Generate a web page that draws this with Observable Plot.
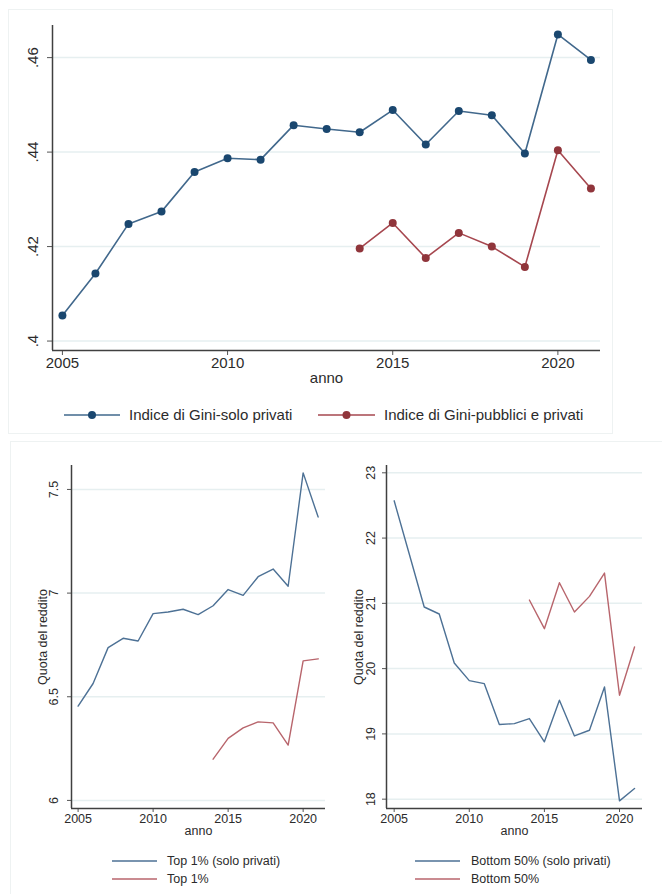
<!DOCTYPE html>
<html>
<head>
<meta charset="utf-8">
<script src="https://cdn.jsdelivr.net/npm/d3@7"></script>
<script src="https://cdn.jsdelivr.net/npm/@observablehq/plot@0.6"></script>
<style>
  html, body { margin: 0; padding: 0; background: #fff; }
  #page { position: relative; width: 662px; height: 894px; overflow: hidden; font-family: "Liberation Sans", Arial, sans-serif; color: #2b2b2b; }
  .abs { position: absolute; }
  .box { position: absolute; border: 1px solid #eef2f2; box-sizing: border-box; }
  .lg { position: absolute; white-space: nowrap; line-height: 20px; }
</style>
</head>
<body>
<div id="page">
  <div class="box" style="left:8px; top:9px; width:605px; height:425px;"></div>
  <div class="box" style="left:10px; top:441px; width:660px; height:460px;"></div>
  <div id="top" class="abs" style="left:0; top:0;"></div>
  <div id="bl" class="abs" style="left:0; top:435px;"></div>
  <div id="br" class="abs" style="left:330px; top:435px;"></div>
  <div id="legends"></div>
</div>
<script>
// ---- data ----
const yearsAll = [2005, 2006, 2007, 2008, 2009, 2010, 2011, 2012, 2013, 2014, 2015, 2016, 2017, 2018, 2019, 2020, 2021];
const yearsRecent = [2014, 2015, 2016, 2017, 2018, 2019, 2020, 2021];

const giniSoloPrivati = [0.4054, 0.4143, 0.4248, 0.4274, 0.4358, 0.4387, 0.4384, 0.4457, 0.4449, 0.4442, 0.4489, 0.4416, 0.4487, 0.4478, 0.4397, 0.4649, 0.4595];
const giniPubbliciPrivati = [0.4196, 0.4250, 0.4176, 0.4229, 0.4200, 0.4157, 0.4404, 0.4323];

const top1SoloPrivati = [6.455, 6.564, 6.737, 6.782, 6.769, 6.901, 6.909, 6.922, 6.896, 6.939, 7.017, 6.989, 7.079, 7.116, 7.033, 7.580, 7.367];
const top1 = [6.199, 6.299, 6.350, 6.379, 6.374, 6.267, 6.673, 6.683];

const bottom50SoloPrivati = [22.571, 21.76, 20.944, 20.837, 20.087, 19.816, 19.770, 19.143, 19.158, 19.235, 18.878, 19.515, 18.969, 19.056, 19.719, 17.974, 18.163];
const bottom50 = [21.051, 20.612, 21.316, 20.867, 21.107, 21.464, 19.592, 20.332];

const xTickValues = [2005, 2010, 2015, 2020];
const giniTicks = [0.40, 0.42, 0.44, 0.46];
const top1Ticks = [6, 6.5, 7, 7.5];
const bottom50Ticks = [18, 19, 20, 21, 22, 23];

const labelsTop = ["Indice di Gini-solo privati", "Indice di Gini-pubblici e privati"];
const labelsTop1 = ["Top 1% (solo privati)", "Top 1%"];
const labelsBottom50 = ["Bottom 50% (solo privati)", "Bottom 50%"];

// ---- helpers ----
const FONT = '"Liberation Sans", Arial, sans-serif';
const TXT = "#2b2b2b";
const GRID = "#e6eff0";
const AXIS = "#404040";

function rows(years, values, series) {
  return years.map((y, i) => ({year: y, value: values[i], series}));
}

function panel({width, height, marginLeft, marginTop, marginRight, marginBottom,
                xDomain, yDomain, yTicks, yFmt, fontSize, data1, data2,
                c1, c2, lineW, dots, dotC1, dotC2, yTickDx, yTitle, yTitleDx, annoDy, tickSize}) {
  const marks = [
    Plot.gridY(yTicks, {stroke: GRID, strokeOpacity: 1, strokeWidth: 1.5}),
    Plot.axisY(yTicks, {tickSize: tickSize, tickFormat: () => "", stroke: "#555", label: null}),
    Plot.text(yTicks, {y: d => d, frameAnchor: "left", text: yFmt, rotate: -90, dx: yTickDx,
                       fontSize: fontSize, fill: TXT, textAnchor: "middle", lineAnchor: "middle"}),
    Plot.axisX(xTickValues, {tickSize: tickSize, tickPadding: 2, tickFormat: d => String(d),
                             fontSize: fontSize, fill: TXT, stroke: "#555", label: null}),
    Plot.text(["anno"], {frameAnchor: "bottom", text: d => d, dy: annoDy, fontSize: fontSize, fill: TXT}),
    Plot.ruleX([xDomain[0]], {stroke: AXIS, strokeWidth: 1.5}),
    Plot.ruleY([yDomain[0]], {stroke: AXIS, strokeWidth: 1.5}),
    Plot.line(data1, {x: "year", y: "value", stroke: c1, strokeWidth: lineW}),
    Plot.line(data2, {x: "year", y: "value", stroke: c2, strokeWidth: lineW})
  ];
  if (yTitle) {
    marks.push(Plot.text([yTitle], {frameAnchor: "left", text: d => d, rotate: -90, dx: yTitleDx,
                                    fontSize: fontSize, fill: TXT, textAnchor: "middle", lineAnchor: "middle"}));
  }
  if (dots) {
    marks.push(Plot.dot(data1, {x: "year", y: "value", r: 4, fill: dotC1}));
    marks.push(Plot.dot(data2, {x: "year", y: "value", r: 4, fill: dotC2}));
  }
  return Plot.plot({
    width, height, marginLeft, marginTop, marginRight, marginBottom,
    style: {fontFamily: FONT, color: TXT, background: "transparent", overflow: "visible"},
    x: {domain: xDomain, type: "linear"},
    y: {domain: yDomain, type: "linear"},
    marks
  });
}

const stripZero = d => String(d).replace(/^0(?=\.)/, "");

// top panel
document.getElementById("top").appendChild(panel({
  width: 612, height: 400, marginLeft: 52, marginTop: 25, marginRight: 12, marginBottom: 50,
  xDomain: [2004.7, 2021.29], yDomain: [0.398, 0.4668],
  yTicks: giniTicks, yFmt: stripZero, fontSize: 15,
  data1: rows(yearsAll, giniSoloPrivati, labelsTop[0]),
  data2: rows(yearsRecent, giniPubbliciPrivati, labelsTop[1]),
  c1: "#41688c", c2: "#a6474f", lineW: 1.6, dots: true, dotC1: "#1a476f", dotC2: "#90353b",
  yTickDx: -19, yTitle: null, annoDy: 32, tickSize: 5
}));

// bottom-left
document.getElementById("bl").appendChild(panel({
  width: 330, height: 420, marginLeft: 71, marginTop: 30, marginRight: 5, marginBottom: 47,
  xDomain: [2004.56, 2021.49], yDomain: [5.961, 7.6155],
  yTicks: top1Ticks, yFmt: d => String(d), fontSize: 12.5,
  data1: rows(yearsAll, top1SoloPrivati, labelsTop1[0]),
  data2: rows(yearsRecent, top1, labelsTop1[1]),
  c1: "#4d7195", c2: "#b8656c", lineW: 1.4, dots: false,
  yTickDx: -18, yTitle: "Quota del reddito", yTitleDx: -29, annoDy: 26, tickSize: 4
}));

// bottom-right
document.getElementById("br").appendChild(panel({
  width: 332, height: 420, marginLeft: 56, marginTop: 30, marginRight: 20, marginBottom: 47,
  xDomain: [2004.49, 2021.53], yDomain: [17.857, 23.112],
  yTicks: bottom50Ticks, yFmt: d => String(d), fontSize: 12.5,
  data1: rows(yearsAll, bottom50SoloPrivati, labelsBottom50[0]),
  data2: rows(yearsRecent, bottom50, labelsBottom50[1]),
  c1: "#4d7195", c2: "#b8656c", lineW: 1.4, dots: false,
  yTickDx: -16, yTitle: "Quota del reddito", yTitleDx: -28, annoDy: 26, tickSize: 4
}));

// ---- legends ----
const L = document.getElementById("legends");
function legendItem(x1, x2, y, textX, label, lineColor, dotColor, fontSize) {
  const w = x2 - x1;
  const sw = `<svg class="abs" style="left:${x1}px; top:${y - 6}px;" width="${w}" height="12">
    <line x1="0" x2="${w}" y1="6" y2="6" stroke="${lineColor}" stroke-width="1.6"/>
    ${dotColor ? `<circle cx="${w / 2}" cy="6" r="4" fill="${dotColor}"/>` : ""}
  </svg>`;
  const tx = `<div class="lg" style="left:${textX}px; top:${y - 10}px; font-size:${fontSize}px;">${label}</div>`;
  L.insertAdjacentHTML("beforeend", sw + tx);
}
legendItem(64, 120, 415, 129, labelsTop[0], "#41688c", "#1a476f", 15);
legendItem(318, 375, 415, 384, labelsTop[1], "#a6474f", "#90353b", 15);
legendItem(112, 157, 861, 167, labelsTop1[0], "#4d7195", null, 12.5);
legendItem(112, 157, 879, 167, labelsTop1[1], "#b8656c", null, 12.5);
legendItem(415, 460, 861, 471, labelsBottom50[0], "#4d7195", null, 12.5);
legendItem(415, 460, 879, 471, labelsBottom50[1], "#b8656c", null, 12.5);
</script>
</body>
</html>
